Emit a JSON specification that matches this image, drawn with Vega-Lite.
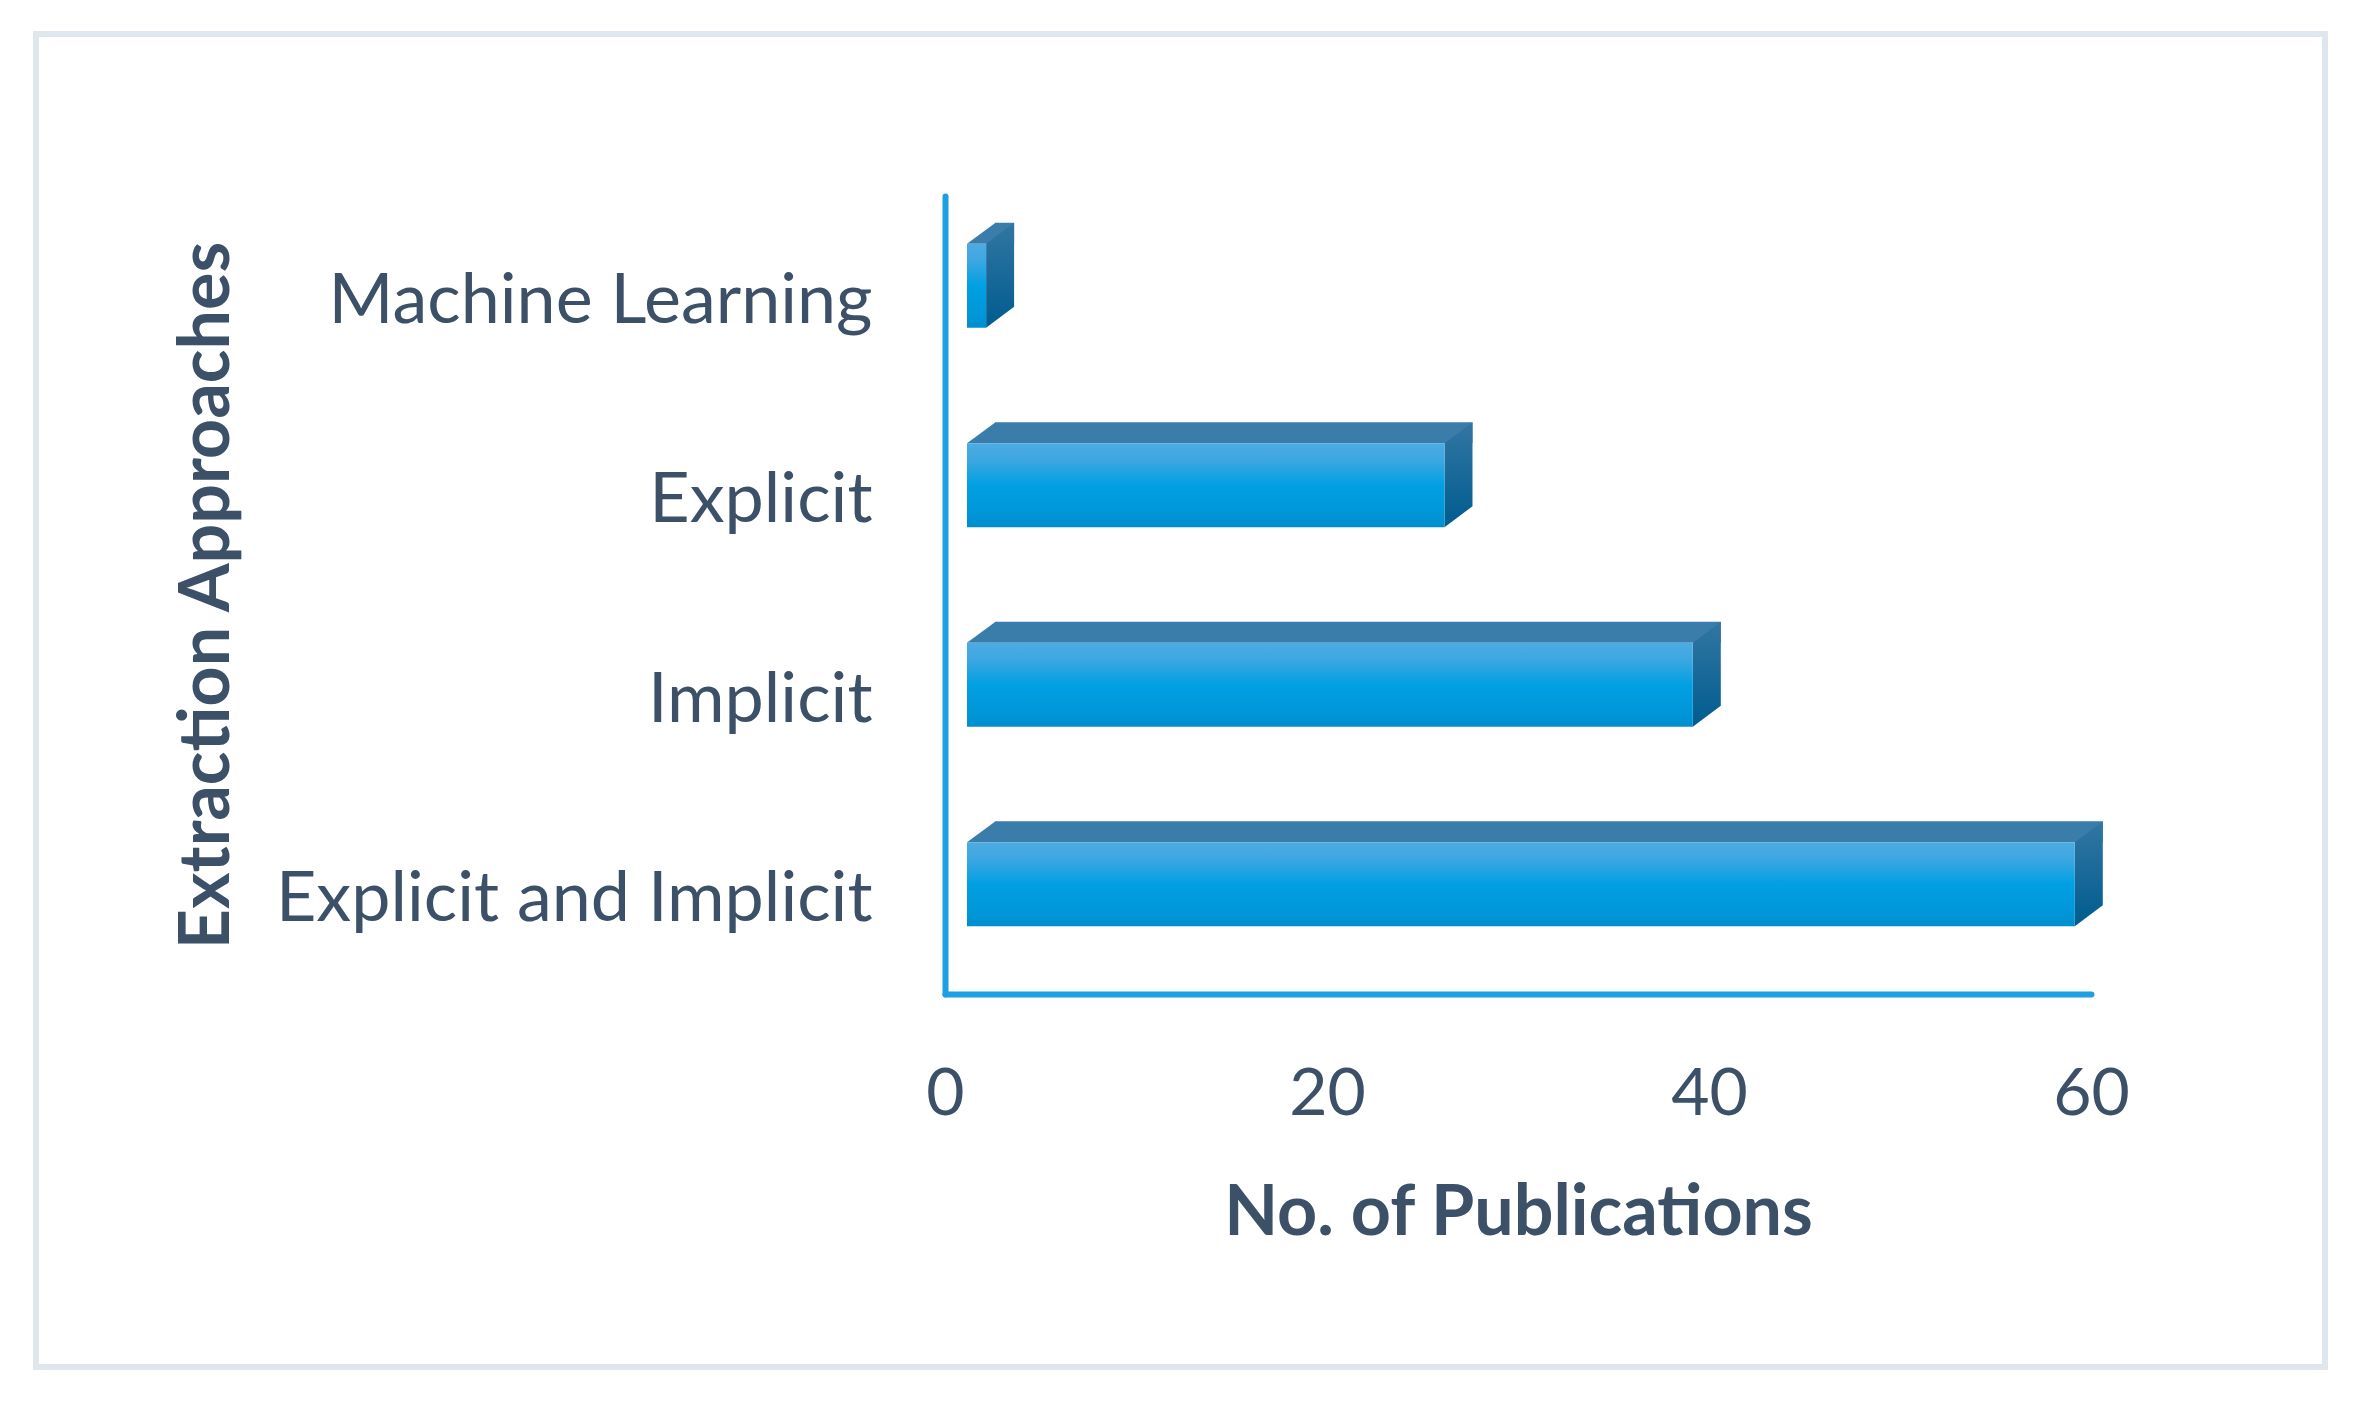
{
  "$schema": "https://vega.github.io/schema/vega-lite/v6.json",
  "width": 2289,
  "height": 1333,
  "autosize": {"type": "none"},
  "padding": {"left": 36, "top": 34, "right": 41, "bottom": 34},
  "background": "white",
  "config": {"view": {"stroke": "#dfe6ed", "strokeWidth": 6}, "font": "Lato"},
  "data": {"values": [
    {"approach": "Machine Learning", "count": 1},
    {"approach": "Explicit", "count": 25},
    {"approach": "Implicit", "count": 38},
    {"approach": "Explicit and Implicit", "count": 58}
  ]},
  "encoding": {
    "y": {
      "field": "approach",
      "type": "nominal",
      "sort": ["Machine Learning", "Explicit", "Implicit", "Explicit and Implicit"],
      "scale": {"type": "band", "domain": ["Machine Learning", "Explicit", "Implicit", "Explicit and Implicit"], "range": [162, 960], "paddingInner": 0, "paddingOuter": 0},
      "axis": {
        "title": "Extraction Approaches",
        "orient": "left",
        "offset": -909,
        "domain": true,
        "domainColor": "#1da0e1",
        "domainWidth": 6,
        "domainCap": "round",
        "ticks": false,
        "tickSize": 0,
        "grid": false,
        "labelFont": "Lato",
        "labelFontSize": 70,
        "labelColor": "#3c5068",
        "labelPadding": 73,
        "labelLimit": 1000,
        "labelOffset": 6,
        "labelOverlap": false,
        "titleFont": "Lato",
        "titleFontSize": 70,
        "titleFontWeight": "bold",
        "titleColor": "#3c5068",
        "titleAngle": -90,
        "titleX": -717,
        "titleY": 561,
        "titleBaseline": "alphabetic",
        "titleAlign": "center"
      }
    },
    "x": {
      "field": "count",
      "type": "quantitative",
      "scale": {"domain": [0, 60], "range": [909, 2055], "nice": false, "zero": true},
      "axis": {
        "title": "No. of Publications",
        "orient": "bottom",
        "offset": -373,
        "values": [0, 20, 40, 60],
        "domain": true,
        "domainColor": "#1da0e1",
        "domainWidth": 6,
        "domainCap": "round",
        "ticks": false,
        "tickSize": 0,
        "grid": false,
        "labelFlush": false,
        "labelOverlap": false,
        "labelFont": "Lato",
        "labelFontSize": 66,
        "labelColor": "#3c5068",
        "labelPadding": 120,
        "labelBaseline": "alphabetic",
        "titleFont": "Lato",
        "titleFontSize": 70,
        "titleFontWeight": "bold",
        "titleColor": "#3c5068",
        "titleX": 1482,
        "titleY": 240,
        "titleBaseline": "alphabetic",
        "titleAlign": "center"
      }
    }
  },
  "layer": [
    {
      "mark": {"type": "bar", "height": 21, "yOffset": -62.5, "xOffset": 50, "x2Offset": 50, "fill": "#3a7dab", "strokeWidth": 0},
      "encoding": {"x2": {"datum": 0}}
    },
    {
      "mark": {"type": "point", "shape": "M0,-42L28.5,-42L28.5,-63Z", "size": 4, "filled": true, "opacity": 1, "fill": "#3a7dab", "strokeWidth": 0, "xOffset": 22, "yOffset": -10},
      "encoding": {"x": {"datum": 0, "type": "quantitative"}}
    },
    {
      "mark": {"type": "point", "shape": "M0,-42L28,-63L28,21L0,42Z", "size": 4, "filled": true, "opacity": 1, "strokeWidth": 0, "xOffset": 22, "yOffset": -10,
        "fill": {"gradient": "linear", "x1": 0, "y1": 0, "x2": 0, "y2": 1, "stops": [{"offset": 0, "color": "#3276a2"}, {"offset": 1, "color": "#005c8f"}]}}
    },
    {
      "mark": {"type": "bar", "height": 84, "yOffset": -10, "xOffset": 22, "x2Offset": 22, "strokeWidth": 0,
        "fill": {"gradient": "linear", "x1": 0, "y1": 0, "x2": 0, "y2": 1, "stops": [{"offset": 0, "color": "#4eabe2"}, {"offset": 0.2, "color": "#3da7e2"}, {"offset": 0.5, "color": "#00a0e3"}, {"offset": 0.85, "color": "#0096d8"}, {"offset": 1, "color": "#008dcd"}]}},
      "encoding": {"x2": {"datum": 0}}
    }
  ]
}
